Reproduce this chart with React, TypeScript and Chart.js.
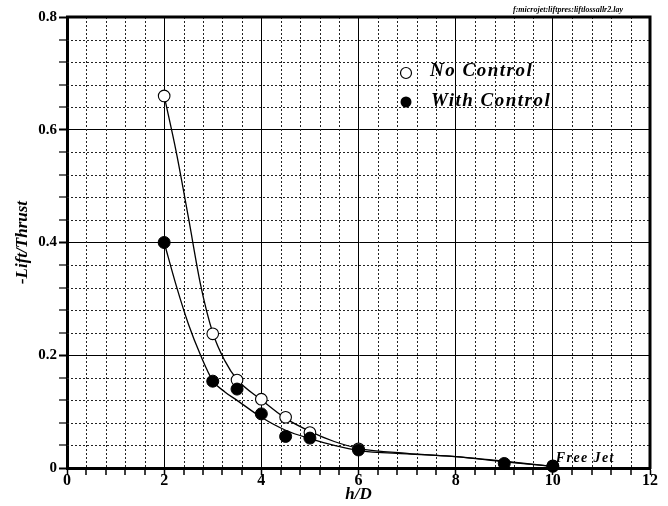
import React, { useEffect, useRef } from "react";
import { Chart, registerables } from "chart.js";

Chart.register(...registerables);

const FONT = "'Liberation Serif', 'Times New Roman', serif";

// Measured points (h/D vs -Lift/Thrust)
const noControlX = [2, 3, 3.5, 4, 4.5, 5, 6, 10];
const noControlY = [0.66, 0.238, 0.156, 0.122, 0.09, 0.063, 0.034, 0.004];
const withControlX = [2, 3, 3.5, 4, 4.5, 5, 6, 9, 10];
const withControlY = [0.4, 0.154, 0.14, 0.096, 0.056, 0.053, 0.032, 0.008, 0.003];

// Fitted curves
const curveX = [2, 2.25, 2.5, 2.75, 3, 3.25, 3.5, 4, 4.5, 5, 5.5, 6, 7, 8, 9, 10];
const noControlFit = [0.66, 0.56, 0.444, 0.325, 0.24, 0.19, 0.157, 0.121, 0.088, 0.065, 0.047, 0.035, 0.026, 0.02, 0.012, 0.003];
const withControlFit = [0.4, 0.323, 0.255, 0.2, 0.155, 0.135, 0.12, 0.09, 0.067, 0.052, 0.04, 0.031, 0.025, 0.02, 0.011, 0.003];

const xTickLabels = ["0", "2", "4", "6", "8", "10", "12"];
const yTickLabels = ["0", "0.2", "0.4", "0.6", "0.8"];
const legendLabels = ["No Control", "With Control"];
const fileLabel = "f:microjet:liftpres:liftlossallr2.lay";
const freeJetLabel = "Free Jet";

const isMajorX = (v: number) => Math.abs(v / 2 - Math.round(v / 2)) < 1e-6;
const isMajorY = (v: number) => Math.abs(v / 0.2 - Math.round(v / 0.2)) < 1e-6;

export default function App() {
  const ref = useRef<HTMLCanvasElement>(null);

  useEffect(() => {
    document.body.style.margin = "0";
    const canvas = ref.current;
    if (!canvas) return;

    const overlay = {
      id: "overlay",
      beforeDatasetsDraw(chart: any) {
        const { ctx, chartArea } = chart;
        const { left, right, top, bottom } = chartArea;
        const xs = chart.scales.x;
        const ys = chart.scales.y;
        ctx.save();
        ctx.strokeStyle = "#222";
        ctx.lineWidth = 1;
        ctx.setLineDash([2, 2]);
        xs.ticks.forEach((t: any) => {
          if (isMajorX(t.value)) return;
          const px = Math.round(xs.getPixelForValue(t.value)) + 0.5;
          ctx.beginPath();
          ctx.moveTo(px, top);
          ctx.lineTo(px, bottom);
          ctx.stroke();
        });
        ys.ticks.forEach((t: any) => {
          if (isMajorY(t.value)) return;
          const py = Math.round(ys.getPixelForValue(t.value)) + 0.5;
          ctx.beginPath();
          ctx.moveTo(left, py);
          ctx.lineTo(right, py);
          ctx.stroke();
        });
        ctx.restore();
      },
      afterDraw(chart: any) {
        const { ctx, chartArea } = chart;
        const { left, right, top, bottom } = chartArea;
        ctx.save();
        // top & right frame
        ctx.strokeStyle = "#000";
        ctx.lineWidth = 3;
        ctx.beginPath();
        ctx.moveTo(left - 1, top);
        ctx.lineTo(right, top);
        ctx.lineTo(right, bottom + 1);
        ctx.stroke();

        // legend
        const lx = left + 339;
        const ly1 = top + 56;
        const ly2 = top + 85;
        ctx.lineWidth = 1.2;
        ctx.beginPath();
        ctx.arc(lx, ly1, 5.5, 0, Math.PI * 2);
        ctx.fillStyle = "#fff";
        ctx.fill();
        ctx.stroke();
        ctx.beginPath();
        ctx.arc(lx, ly2, 5.5, 0, Math.PI * 2);
        ctx.fillStyle = "#000";
        ctx.fill();

        ctx.fillStyle = "#000";
        ctx.textAlign = "left";
        ctx.textBaseline = "alphabetic";
        (ctx as any).letterSpacing = "1.5px";
        ctx.font = `bold italic 19px ${FONT}`;
        ctx.fillText(legendLabels[0], lx + 24, ly1 + 3);
        ctx.fillText(legendLabels[1], lx + 25, ly2 + 4);

        // Free Jet
        (ctx as any).letterSpacing = "1.4px";
        ctx.font = `bold italic 14px ${FONT}`;
        ctx.fillText(freeJetLabel, chart.scales.x.getPixelForValue(10) + 3, bottom - 6);

        // file label
        (ctx as any).letterSpacing = "0px";
        ctx.font = `bold italic 8px ${FONT}`;
        ctx.textAlign = "right";
        ctx.fillText(fileLabel, right - 27, top - 5);
        ctx.restore();
      },
    };

    const chart = new Chart(canvas, {
      type: "line",
      data: {
        datasets: [
          {
            label: "No Control fit",
            data: curveX.map((x, i) => ({ x, y: noControlFit[i] })),
            borderColor: "#000",
            borderWidth: 1.3,
            pointRadius: 0,
            cubicInterpolationMode: "monotone",
            fill: false,
            order: 2,
          },
          {
            label: "With Control fit",
            data: curveX.map((x, i) => ({ x, y: withControlFit[i] })),
            borderColor: "#000",
            borderWidth: 1.3,
            pointRadius: 0,
            cubicInterpolationMode: "monotone",
            fill: false,
            order: 2,
          },
          {
            label: legendLabels[0],
            data: noControlX.map((x, i) => ({ x, y: noControlY[i] })),
            showLine: false,
            pointStyle: "circle",
            pointRadius: 5.8,
            pointBackgroundColor: "#fff",
            pointBorderColor: "#000",
            pointBorderWidth: 1.1,
            clip: false,
            order: 1,
          } as any,
          {
            label: legendLabels[1],
            data: withControlX.map((x, i) => ({ x, y: withControlY[i] })),
            showLine: false,
            pointStyle: "circle",
            pointRadius: 6,
            pointBackgroundColor: "#000",
            pointBorderColor: "#000",
            pointBorderWidth: 1,
            clip: false,
            order: 0,
          } as any,
        ],
      },
      options: {
        responsive: false,
        animation: false,
        events: [],
        layout: { padding: { top: 17, right: 18, left: 0, bottom: 0 } },
        plugins: {
          legend: { display: false },
          tooltip: { enabled: false },
        },
        scales: {
          x: {
            type: "linear",
            min: 0,
            max: 12,
            afterFit: (s: any) => {
              s.height = 38;
            },
            afterBuildTicks: (s: any) => {
              const t = [];
              for (let i = 0; i <= 30; i++) t.push({ value: Math.round(i * 0.4 * 10) / 10 });
              s.ticks = t;
            },
            ticks: {
              autoSkip: false,
              maxRotation: 0,
              padding: -2,
              color: "#000",
              font: { family: FONT, size: 16, weight: "bold", lineHeight: 1 },
              callback: (v: any) => (isMajorX(Number(v)) ? xTickLabels[Math.round(Number(v) / 2)] : ""),
            },
            grid: {
              color: "#000",
              lineWidth: (c: any) => (c.tick && isMajorX(c.tick.value) ? 1 : 0),
              tickLength: 7,
              tickWidth: 1.5,
              tickColor: "#000",
            },
            border: { display: true, color: "#000", width: 3 },
            title: {
              display: true,
              text: "h/D",
              color: "#000",
              font: { family: FONT, size: 17, weight: "bold", style: "italic" },
              padding: { top: 0, bottom: 1 },
            },
          },
          y: {
            type: "linear",
            min: 0,
            max: 0.8,
            afterFit: (s: any) => {
              s.width = 67;
            },
            afterBuildTicks: (s: any) => {
              const t = [];
              for (let i = 0; i <= 20; i++) t.push({ value: Math.round(i * 4) / 100 });
              s.ticks = t;
            },
            ticks: {
              autoSkip: false,
              padding: 2,
              color: "#000",
              font: { family: FONT, size: 15, weight: "bold" },
              callback: (v: any) => (isMajorY(Number(v)) ? yTickLabels[Math.round(Number(v) / 0.2)] : ""),
            },
            grid: {
              color: "#000",
              lineWidth: (c: any) => (c.tick && isMajorY(c.tick.value) ? 1 : 0),
              tickLength: 8,
              tickWidth: 2,
              tickColor: (c: any) => (c.tick && isMajorY(c.tick.value) ? "#000" : "#666"),
            },
            border: { display: true, color: "#000", width: 3 },
            title: {
              display: true,
              text: "-Lift/Thrust",
              color: "#000",
              font: { family: FONT, size: 17, weight: "bold", style: "italic" },
              padding: { top: 12, bottom: 0 },
            },
          },
        },
      } as any,
      plugins: [overlay],
    });

    return () => chart.destroy();
  }, []);

  return (
    <div style={{ position: "absolute", left: 0, top: 0, width: 668, height: 506, background: "#fff" }}>
      <canvas ref={ref} width={668} height={506} style={{ width: 668, height: 506, display: "block" }} />
    </div>
  );
}
